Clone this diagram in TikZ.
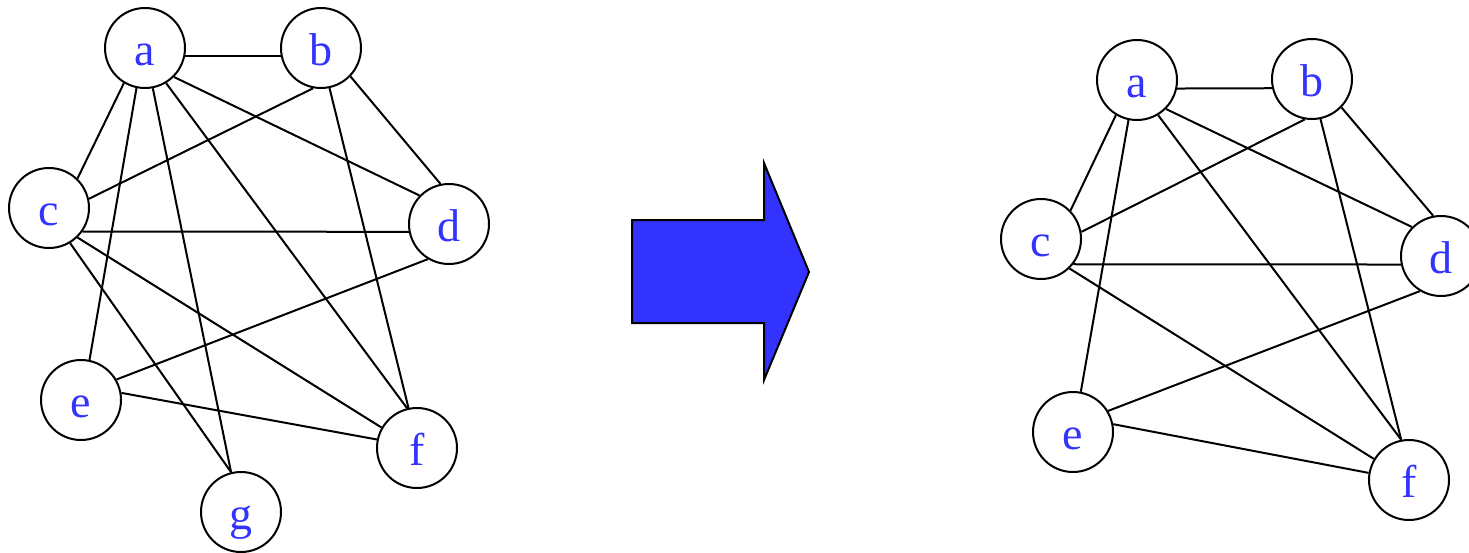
\documentclass[tikz,border=0pt]{standalone}
\usepackage{fontspec}
\setmainfont{Liberation Serif}
\definecolor{vblue}{RGB}{51,51,255}
\begin{document}
\begin{tikzpicture}[x=1pt,y=-1pt,
		vertex/.style={draw,circle,line width=2pt,minimum size=80pt,inner sep=0pt,text=vblue,font=\fontsize{46}{50}\selectfont,text height=34pt,text depth=0pt},
		edge/.style={line width=2pt}]
			\useasboundingbox (0,0) rectangle (1469,552);
			\node[vertex] (la) at (145,48) {a};
			\node[vertex] (lb) at (321,48) {b};
			\node[vertex] (lc) at (49,208) {c};
			\node[vertex] (ld) at (449,224) {d};
			\node[vertex] (le) at (81,400) {e};
			\node[vertex] (lf) at (417,448) {f};
			\node[vertex] (lg) at (241,512) {g};
			\draw[edge] (la.-11)--(lb.191);
			\draw[edge] (la.239)--(lc.46);
			\draw[edge] (la.258)--(le.78);
			\draw[edge] (la.281)--(lg.104);
			\draw[edge] (la.-59)--(lf.104);
			\draw[edge] (la.-45)--(ld.136);
			\draw[edge] (lb.259)--(lc.13);
			\draw[edge] (lb.-44)--(ld.102);
			\draw[edge] (lb.-78)--(lf.102);
			\draw[edge] (lc.-35)--(ld.191);
			\draw[edge] (lc.-46)--(lf.150);
			\draw[edge] (lc.-59)--(lg.104);
			\draw[edge] (ld.239)--(le.30);
			\draw[edge] (le.10)--(lf.168);
			\filldraw[fill=vblue,line width=2pt,line join=miter] (632,220)--(764,220)--(764,163)--(809,272)--(764,380)--(764,323)--(632,323)--cycle;
			\node[vertex] (ra) at (1137,80) {a};
			\node[vertex] (rb) at (1312,79) {b};
			\node[vertex] (rc) at (1041,239) {c};
			\node[vertex] (rd) at (1441,256) {d};
			\node[vertex] (re) at (1073,432) {e};
			\node[vertex] (rf) at (1409,480) {f};
			\draw[edge] (ra.-12)--(rb.193);
			\draw[edge] (ra.239)--(rc.44);
			\draw[edge] (ra.258)--(re.79);
			\draw[edge] (ra.-59)--(rf.101);
			\draw[edge] (ra.-45)--(rd.135);
			\draw[edge] (rb.260)--(rc.10);
			\draw[edge] (rb.-44)--(rd.101);
			\draw[edge] (rb.-78)--(rf.101);
			\draw[edge] (rc.-38)--(rd.192);
			\draw[edge] (rc.-46)--(rf.149);
			\draw[edge] (rd.239)--(re.31);
			\draw[edge] (re.11)--(rf.170);
	\end{tikzpicture}
\end{document}
